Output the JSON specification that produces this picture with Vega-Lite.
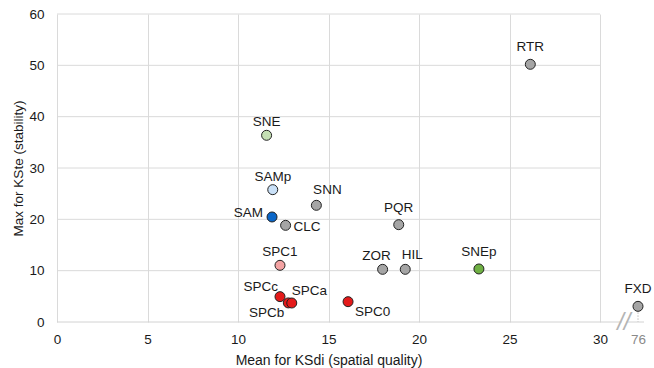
{
  "$schema": "https://vega.github.io/schema/vega-lite/v6.json",
  "autosize": {"type": "none"},
  "padding": {"left": 57, "top": 14, "right": 10, "bottom": 46},
  "width": 587,
  "height": 308,
  "background": "white",
  "config": {
    "view": {"stroke": null},
    "font": "Liberation Sans",
    "text": {"font": "Liberation Sans", "fontSize": 13.5, "color": "#1a1a1a"}
  },
  "datasets": {
    "methods": [
      {"name": "RTR", "mean": 26.15, "max": 50.2},
      {"name": "SNE", "mean": 11.58, "max": 36.37},
      {"name": "SAMp", "mean": 11.92, "max": 25.78},
      {"name": "SNN", "mean": 14.33, "max": 22.73},
      {"name": "SAM", "mean": 11.88, "max": 20.46},
      {"name": "CLC", "mean": 12.63, "max": 18.83},
      {"name": "PQR", "mean": 18.88, "max": 18.96},
      {"name": "SPC1", "mean": 12.32, "max": 11.04},
      {"name": "ZOR", "mean": 17.99, "max": 10.26},
      {"name": "HIL", "mean": 19.24, "max": 10.26},
      {"name": "SNEp", "mean": 23.31, "max": 10.33},
      {"name": "SPCc", "mean": 12.32, "max": 4.94},
      {"name": "SPCb", "mean": 12.78, "max": 3.72},
      {"name": "SPCa", "mean": 12.97, "max": 3.70},
      {"name": "SPC0", "mean": 16.08, "max": 3.96},
      {"name": "FXD", "mean": 76, "max": 3.05}
    ],
    "hgrid": [
      {"level": 10}, {"level": 20}, {"level": 30}, {"level": 40}, {"level": 50}, {"level": 60}
    ],
    "baseline": [
      {"from": 0, "to": 56.4},
      {"from": 61.4, "to": 77}
    ],
    "axisBreak": [
      {"at": 58.9}
    ]
  },
  "layer": [
    {
      "data": {"name": "hgrid"},
      "mark": {"type": "rule", "color": "#dadada", "strokeWidth": 1},
      "encoding": {
        "y": {"field": "level", "type": "quantitative"},
        "x": {"datum": 0, "type": "quantitative"},
        "x2": {"datum": 30}
      }
    },
    {
      "data": {"name": "baseline"},
      "mark": {"type": "rule", "color": "#d2d2d2", "strokeWidth": 1},
      "encoding": {
        "x": {"field": "from", "type": "quantitative"},
        "x2": {"field": "to"},
        "y": {"datum": 0, "type": "quantitative"}
      }
    },
    {
      "data": {"name": "axisBreak"},
      "mark": {"type": "text", "text": "//", "fontSize": 24, "fontStyle": "italic", "color": "#b5b5b5", "baseline": "middle", "align": "center", "dy": 1},
      "encoding": {
        "x": {"field": "at", "type": "quantitative"},
        "y": {"datum": 0, "type": "quantitative"}
      }
    },
    {
      "data": {"name": "methods"},
      "transform": [{"filter": "datum.name == 'FXD'"}],
      "mark": {"type": "rule", "color": "#bdbdbd", "strokeDash": [1.5, 1.5], "strokeWidth": 1},
      "encoding": {
        "x": {"field": "mean", "type": "quantitative"},
        "y": {"field": "max", "type": "quantitative"},
        "y2": {"datum": 0}
      }
    },
    {
      "data": {"name": "methods"},
      "mark": {"type": "point", "shape": "circle", "filled": true, "size": 100, "stroke": "#222222", "strokeWidth": 1, "opacity": 1},
      "encoding": {
        "x": {
          "field": "mean",
          "type": "quantitative",
          "scale": {"domain": [0, 30, 76, 77], "range": [0, 543, 581, 587], "nice": false, "zero": false},
          "axis": {
            "title": "Mean for KSdi (spatial quality)",
            "values": [0, 5, 10, 15, 20, 25, 30, 76],
            "domain": false,
            "ticks": false,
            "grid": true,
            "gridColor": "#dadada",
            "gridOpacity": {"condition": {"test": "datum.value == 76", "value": 0}, "value": 1},
            "labelColor": {"condition": {"test": "datum.value == 76", "value": "#8a8a8a"}, "value": "#1a1a1a"},
            "labelFont": "Liberation Sans",
            "labelFontSize": 13.5,
            "labelFlush": false,
            "labelOverlap": false,
            "labelPadding": 10,
            "titleFont": "Liberation Sans",
            "titleFontSize": 14,
            "titleFontWeight": "normal",
            "titleColor": "#1a1a1a",
            "titleX": 271.5,
            "titleY": 38,
            "titleBaseline": "middle"
          }
        },
        "y": {
          "field": "max",
          "type": "quantitative",
          "scale": {"domain": [0, 60], "nice": false},
          "axis": {
            "title": "Max for KSte (stability)",
            "values": [0, 10, 20, 30, 40, 50, 60],
            "domain": false,
            "ticks": false,
            "grid": false,
            "labelFont": "Liberation Sans",
            "labelFontSize": 13.5,
            "labelColor": "#1a1a1a",
            "labelFlush": false,
            "labelPadding": 13,
            "titleFont": "Liberation Sans",
            "titleFontSize": 13.5,
            "titleFontWeight": "normal",
            "titleColor": "#1a1a1a",
            "titleX": -39,
            "titleY": 154,
            "titleBaseline": "middle"
          }
        },
        "fill": {
          "field": "name",
          "type": "nominal",
          "legend": null,
          "scale": {
            "domain": ["RTR", "SNE", "SAMp", "SNN", "SAM", "CLC", "PQR", "SPC1", "ZOR", "HIL", "SNEp", "SPCc", "SPCb", "SPCa", "SPC0", "FXD"],
            "range": ["#a5a5a5", "#c5e0b4", "#c9e0f7", "#a5a5a5", "#0a66c8", "#a5a5a5", "#a5a5a5", "#f4a3a3", "#a5a5a5", "#a5a5a5", "#6fb043", "#e41a1a", "#e41a1a", "#e41a1a", "#e41a1a", "#a5a5a5"]
          }
        }
      }
    },
    {
      "data": {"name": "methods"},
      "transform": [{"filter": {"field": "name", "oneOf": ["RTR", "PQR", "SNEp", "FXD"]}}],
      "mark": {"type": "text", "align": "center", "baseline": "middle", "dy": -17},
      "encoding": {"x": {"field": "mean", "type": "quantitative"}, "y": {"field": "max", "type": "quantitative"}, "text": {"field": "name"}}
    },
    {
      "data": {"name": "methods"},
      "transform": [{"filter": {"field": "name", "oneOf": ["SNE", "SAMp", "SPC1"]}}],
      "mark": {"type": "text", "align": "center", "baseline": "middle", "dy": -13},
      "encoding": {"x": {"field": "mean", "type": "quantitative"}, "y": {"field": "max", "type": "quantitative"}, "text": {"field": "name"}}
    },
    {
      "data": {"name": "methods"},
      "transform": [{"filter": "datum.name == 'SNN'"}],
      "mark": {"type": "text", "align": "center", "baseline": "middle", "dx": 11, "dy": -15},
      "encoding": {"x": {"field": "mean", "type": "quantitative"}, "y": {"field": "max", "type": "quantitative"}, "text": {"field": "name"}}
    },
    {
      "data": {"name": "methods"},
      "transform": [{"filter": "datum.name == 'SAM'"}],
      "mark": {"type": "text", "align": "right", "baseline": "middle", "dx": -9, "dy": -4},
      "encoding": {"x": {"field": "mean", "type": "quantitative"}, "y": {"field": "max", "type": "quantitative"}, "text": {"field": "name"}}
    },
    {
      "data": {"name": "methods"},
      "transform": [{"filter": "datum.name == 'CLC'"}],
      "mark": {"type": "text", "align": "left", "baseline": "middle", "dx": 8, "dy": 2},
      "encoding": {"x": {"field": "mean", "type": "quantitative"}, "y": {"field": "max", "type": "quantitative"}, "text": {"field": "name"}}
    },
    {
      "data": {"name": "methods"},
      "transform": [{"filter": "datum.name == 'SPCc'"}],
      "mark": {"type": "text", "align": "right", "baseline": "middle", "dx": -2, "dy": -10},
      "encoding": {"x": {"field": "mean", "type": "quantitative"}, "y": {"field": "max", "type": "quantitative"}, "text": {"field": "name"}}
    },
    {
      "data": {"name": "methods"},
      "transform": [{"filter": "datum.name == 'SPCa'"}],
      "mark": {"type": "text", "align": "left", "baseline": "middle", "dx": 0, "dy": -12},
      "encoding": {"x": {"field": "mean", "type": "quantitative"}, "y": {"field": "max", "type": "quantitative"}, "text": {"field": "name"}}
    },
    {
      "data": {"name": "methods"},
      "transform": [{"filter": "datum.name == 'SPCb'"}],
      "mark": {"type": "text", "align": "right", "baseline": "middle", "dx": -4, "dy": 10},
      "encoding": {"x": {"field": "mean", "type": "quantitative"}, "y": {"field": "max", "type": "quantitative"}, "text": {"field": "name"}}
    },
    {
      "data": {"name": "methods"},
      "transform": [{"filter": "datum.name == 'ZOR'"}],
      "mark": {"type": "text", "align": "center", "baseline": "middle", "dx": -6, "dy": -13},
      "encoding": {"x": {"field": "mean", "type": "quantitative"}, "y": {"field": "max", "type": "quantitative"}, "text": {"field": "name"}}
    },
    {
      "data": {"name": "methods"},
      "transform": [{"filter": "datum.name == 'HIL'"}],
      "mark": {"type": "text", "align": "center", "baseline": "middle", "dx": 7, "dy": -14},
      "encoding": {"x": {"field": "mean", "type": "quantitative"}, "y": {"field": "max", "type": "quantitative"}, "text": {"field": "name"}}
    },
    {
      "data": {"name": "methods"},
      "transform": [{"filter": "datum.name == 'SPC0'"}],
      "mark": {"type": "text", "align": "left", "baseline": "middle", "dx": 7, "dy": 10},
      "encoding": {"x": {"field": "mean", "type": "quantitative"}, "y": {"field": "max", "type": "quantitative"}, "text": {"field": "name"}}
    }
  ]
}
